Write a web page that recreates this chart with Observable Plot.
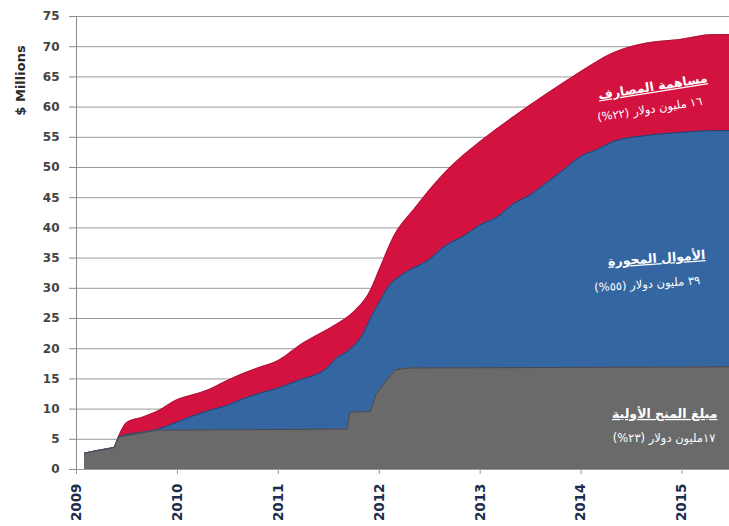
<!DOCTYPE html>
<html>
<head>
<meta charset="utf-8">
<script src="https://cdn.jsdelivr.net/npm/d3@7"></script>
<script src="https://cdn.jsdelivr.net/npm/@observablehq/plot@0.6"></script>
<style>
  html, body { margin: 0; padding: 0; background: #fff; }
  #chart svg { display: block; }
</style>
</head>
<body>
<div id="chart"></div>
<script>
// ---- Data (cumulative tops of each stacked layer, $ millions) ----
const yearTicks = [2009, 2010, 2011, 2012, 2013, 2014, 2015];
const valueTicks = [0, 5, 10, 15, 20, 25, 30, 35, 40, 45, 50, 55, 60, 65, 70, 75];

// Initial grant amount (grey, bottom layer)
const grantX = [2009.08, 2009.33, 2009.37, 2009.42, 2009.6, 2009.79, 2011.68, 2011.71, 2011.91, 2011.97, 2012.06, 2012.16, 2012.3, 2015.47];
const grantY = [2.7, 3.5, 3.6, 5.4, 5.9, 6.5, 6.7, 9.5, 9.6, 12.5, 14.5, 16.5, 16.8, 17.0];

// Grant + leveraged funds (blue layer top)
const leveragedX = [2009.08, 2009.33, 2009.37, 2009.42, 2009.66, 2009.79, 2009.99, 2010.16, 2010.32, 2010.49, 2010.65, 2010.81, 2010.98, 2011.19, 2011.49, 2011.58, 2011.68, 2011.84, 2011.91, 2012.01, 2012.08, 2012.24, 2012.48, 2012.67, 2012.83, 2013.0, 2013.17, 2013.33, 2013.5, 2013.66, 2013.82, 2013.99, 2014.16, 2014.32, 2014.65, 2014.98, 2015.31, 2015.47];
const leveragedY = [2.7, 3.5, 3.6, 5.4, 6.2, 6.6, 7.8, 8.9, 9.8, 10.6, 11.7, 12.6, 13.4, 14.7, 16.9, 18.5, 19.5, 22.5, 25, 28, 30, 32.4, 34.6, 37.2, 38.6, 40.5, 41.8, 44.0, 45.5, 47.5, 49.5, 51.8, 53.0, 54.3, 55.3, 55.8, 56.1, 56.1];

// Total incl. bank contributions (red layer top)
const totalX = [2009.08, 2009.33, 2009.37, 2009.42, 2009.5, 2009.66, 2009.82, 2009.99, 2010.16, 2010.32, 2010.49, 2010.65, 2010.81, 2010.98, 2011.25, 2011.58, 2011.74, 2011.91, 2012.01, 2012.14, 2012.34, 2012.67, 2013.0, 2013.33, 2013.66, 2013.99, 2014.32, 2014.65, 2014.98, 2015.31, 2015.47];
const totalY = [2.7, 3.5, 3.6, 5.6, 7.8, 8.7, 9.8, 11.5, 12.4, 13.3, 14.7, 15.9, 16.9, 17.9, 21.0, 24.1, 26.0, 29.6, 33.5, 38.5, 43.0, 49.5, 54.3, 58.4, 62.2, 65.8, 69.0, 70.6, 71.2, 72.0, 72.0];

// Annotation labels
const labelTitles = ["مساهمة المصارف", "الأموال المحورة", "مبلغ المنح الأولية"];
const labelLines  = ["١٦ مليون دولار (٢٢%)", "٣٩ مليون دولار (٥٥%)", "١٧مليون دولار (٢٣%)"];
const titleX = [2015.25, 2015.23, 2015.35];
const titleY = [64.8, 35.5, 9.2];
const lineX  = [2015.2, 2015.18, 2015.33];
const lineY  = [61.0, 31.3, 5.1];
const labelRotate = [-9, -4, 0];

const yAxisLabel = "$ Millions";

// ---- Build tables ----
const grant = grantX.map((x, i) => ({x, y: grantY[i]}));
const leveraged = leveragedX.map((x, i) => ({x, y: leveragedY[i]}));
const total = totalX.map((x, i) => ({x, y: totalY[i]}));
const rtl = s => "\u202B" + s + "\u202C";

const RED = "#d3123f", BLUE = "#3466a2", GREY = "#6a6a6a";
const AR = "'DejaVu Sans', sans-serif";

const labelMarks = labelTitles.flatMap((t, i) => [
  Plot.text([{x: titleX[i], y: titleY[i], text: rtl(t)}], {
    x: "x", y: "y", text: "text", rotate: labelRotate[i], textAnchor: "end",
    fill: "#fff", fontSize: 12.5, fontWeight: "bold", fontFamily: AR
  }),
  Plot.text([{x: lineX[i], y: lineY[i], text: rtl(labelLines[i])}], {
    x: "x", y: "y", text: "text", rotate: labelRotate[i], textAnchor: "end",
    fill: "#fff", fontSize: 11.5, fontFamily: AR
  })
]);

const chart = Plot.plot({
  width: 729,
  height: 526,
  marginLeft: 76,
  marginRight: 0,
  marginTop: 16,
  marginBottom: 57,
  style: {fontFamily: "'DejaVu Sans', sans-serif", background: "#fff"},
  x: {domain: [2009, 2015.47]},
  y: {domain: [0, 75]},
  marks: [
    Plot.gridY(valueTicks, {stroke: "#9a9a9a", strokeOpacity: 1, strokeWidth: 1}),
    Plot.areaY(total, {x: "x", y: "y", fill: RED, curve: "monotone-x"}),
    Plot.lineY(total, {x: "x", y: "y", stroke: "#8c1a34", strokeWidth: 0.8, strokeOpacity: 0.7, curve: "monotone-x"}),
    Plot.areaY(leveraged, {x: "x", y: "y", fill: BLUE, curve: "monotone-x"}),
    Plot.lineY(leveraged, {x: "x", y: "y", stroke: "#1f3560", strokeWidth: 1, strokeOpacity: 0.8, curve: "monotone-x"}),
    Plot.areaY(grant, {x: "x", y: "y", fill: GREY}),
    Plot.lineY(grant, {x: "x", y: "y", stroke: "#3a3a48", strokeWidth: 1, strokeOpacity: 0.7}),
    Plot.ruleX([2009], {y1: 0, y2: 75, stroke: "#8a8a8a", strokeWidth: 1}),
    Plot.axisY({
      ticks: valueTicks, tickSize: 7, tickPadding: 10, fontSize: 12, fontWeight: "bold",
      fill: "#444", stroke: "#8a8a8a", label: null
    }),
    Plot.axisX({
      ticks: yearTicks, tickFormat: d => String(d), tickRotate: -90, tickSize: 5, tickPadding: 9,
      fontSize: 13.5, fontWeight: "bold", fill: "#1d2d4c", stroke: "#9a9a9a", label: null
    }),
    Plot.text([yAxisLabel], {
      frameAnchor: "top-left", dx: -61, dy: 64, rotate: -90, text: d => d,
      fontSize: 13, fontWeight: "bold", fill: "#2a2a2a", textAnchor: "middle"
    }),
    ...labelMarks
  ]
});

const titleSet = new Set(labelTitles.map(rtl));
d3.select(chart).selectAll("text")
  .filter(function() { return titleSet.has(this.textContent); })
  .style("text-decoration", "underline");

document.getElementById("chart").appendChild(chart);
</script>
</body>
</html>
